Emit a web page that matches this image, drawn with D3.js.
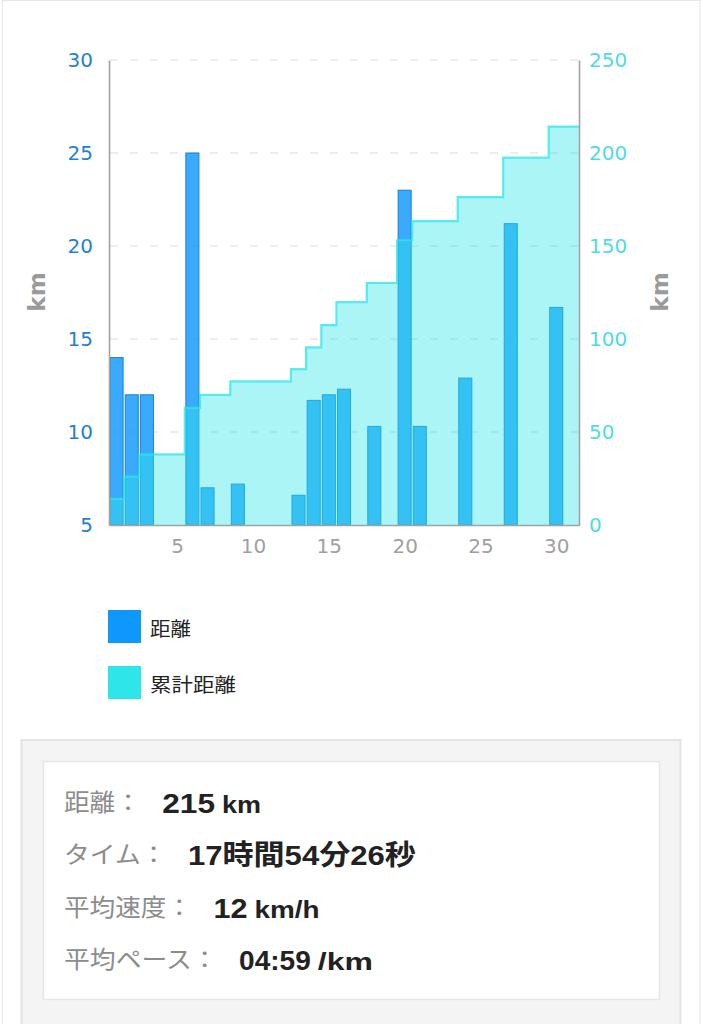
<!DOCTYPE html>
<html>
<head>
<meta charset="utf-8">
<script src="https://cdn.jsdelivr.net/npm/d3@7"></script>
<style>
  html, body { margin: 0; padding: 0; background: #ffffff; }
  svg { display: block; }
</style>
</head>
<body>
<svg id="chart" width="702" height="1024"></svg>
<script>
// ---------- data ----------
const days = [1,2,3,4,5,6,7,8,9,10,11,12,13,14,15,16,17,18,19,20,21,22,23,24,25,26,27,28,29,30,31];
const distance = [14,12,12,0,0,25,7,0,7.2,0,0,0,6.6,11.7,12,12.3,0,10.3,0,23.0,10.3,0,0,12.9,0,0,21.2,0,0,16.7,0];
const cumulative = [14,26,38,38,38,63,70,70,77.2,77.2,77.2,77.2,83.8,95.5,107.5,119.8,119.8,130.1,130.1,153.1,163.4,163.4,163.4,176.3,176.3,176.3,197.5,197.5,197.5,214.2,214.2];
const xTicks = [5,10,15,20,25,30];
const leftTicks = [5,10,15,20,25,30];
const rightTicks = [0,50,100,150,200,250];
const seriesNames = ["距離","累計距離"];
const statLabels = ["距離：","タイム：","平均速度：","平均ペース："];
const statValues = ["215","17時間54分26秒","12","04:59"];
const statUnits = ["km","","km/h","/km"];

// ---------- layout ----------
const svg = d3.select("#chart");
const L = 109, R = 579, T = 60, B = 525;
const BLUE = "#0f97fb", CYAN = "#2ee6ea";

// page border
svg.append("rect").attr("x",2.5).attr("y",0.5).attr("width",697.5).attr("height",1040)
  .attr("fill","none").attr("stroke","#e6e6e6").attr("stroke-width",1);

const x = d3.scaleLinear().domain([0.5, 31.5]).range([L, R]);
const yL = d3.scaleLinear().domain([5, 30]).range([B, T]);
const yR = d3.scaleLinear().domain([0, 250]).range([B, T]);

// gridlines
svg.append("g").selectAll("line").data(leftTicks.slice(1)).join("line")
  .attr("x1", L + 1).attr("x2", R - 1)
  .attr("y1", d => yL(d)).attr("y2", d => yL(d))
  .attr("stroke", "#dcdcdc").attr("stroke-width", 1.2)
  .attr("stroke-dasharray", "8,12");

// bars
const step = x(1.5) - x(0.5);
const bw = step * 0.86;
const barData = days.map((d, i) => ({day: d, v: distance[i]})).filter(d => d.v > 0);
svg.append("g").selectAll("rect").data(barData).join("rect")
  .attr("x", d => x(d.day) - bw / 2)
  .attr("width", bw)
  .attr("y", d => yL(d.v))
  .attr("height", d => yL(5) - yL(d.v))
  .attr("fill", BLUE).attr("fill-opacity", 0.82)
  .attr("stroke", "#1b80d4").attr("stroke-width", 1);

// cumulative step area
const pts = days.map((d, i) => ({x: d, c: cumulative[i]}));
const areaPts = [{x: 0.5, c: cumulative[0]}, ...pts, {x: 31.5, c: cumulative[cumulative.length - 1]}];
const area = d3.area().curve(d3.curveStep).x(d => x(d.x)).y0(yR(0)).y1(d => yR(d.c));
const line = d3.line().curve(d3.curveStep).x(d => x(d.x)).y(d => yR(d.c));
svg.append("path").datum(areaPts).attr("d", area)
  .attr("fill", CYAN).attr("fill-opacity", 0.4);
svg.append("path").datum(areaPts).attr("d", line)
  .attr("fill", "none").attr("stroke", CYAN).attr("stroke-opacity", 0.75).attr("stroke-width", 2.2);

// axes
const axisCol = "#a2a2a2";
const gL = svg.append("g").attr("transform", `translate(${L},0)`)
  .call(d3.axisLeft(yL).tickValues(leftTicks).tickSize(0).tickPadding(16));
const gR = svg.append("g").attr("transform", `translate(${R},0)`)
  .call(d3.axisRight(yR).tickValues(rightTicks).tickSize(0).tickPadding(10));
const gX = svg.append("g").attr("transform", `translate(0,${B})`)
  .call(d3.axisBottom(x).tickValues(xTicks).tickSize(0).tickPadding(14));
[gL, gR, gX].forEach(g => {
  g.select(".domain").attr("stroke", axisCol).attr("stroke-width", 1.6);
  g.selectAll("text").attr("font-family", "DejaVu Sans, Verdana, sans-serif").attr("font-size", 20);
});
gL.selectAll("text").attr("fill", "#2380d6");
gR.selectAll("text").attr("fill", "#4fdbe4");
gX.selectAll("text").attr("fill", "#a0a0a0");

// axis titles
[[37, "left"], [660, "right"]].forEach(([cx]) => {
  svg.append("text").attr("transform", `translate(${cx},292) rotate(-90)`)
    .attr("text-anchor", "middle").attr("dominant-baseline", "central")
    .attr("font-family", "DejaVu Sans, Verdana, sans-serif").attr("font-weight", "bold")
    .attr("font-size", 23).attr("fill", "#9a9a9a").text("km");
});

// legend
const legColors = [BLUE, CYAN];
const legW = [41, 86];
const leg = svg.append("g").selectAll("g").data(seriesNames).join("g")
  .attr("transform", (d, i) => `translate(108,${610 + i * 56})`);
leg.append("rect").attr("width", 33).attr("height", 33).attr("fill", (d, i) => legColors[i]);
leg.append("text").attr("x", 42).attr("y", 17).attr("dominant-baseline", "central")
  .attr("font-family", "Noto Sans CJK JP, sans-serif").attr("font-size", 19).attr("fill", "#222")
  .attr("textLength", (d, i) => legW[i]).attr("lengthAdjust", "spacingAndGlyphs")
  .text(d => d);

// stats box
svg.append("rect").attr("x", 21.5).attr("y", 740).attr("width", 659).attr("height", 300)
  .attr("fill", "#f4f4f4").attr("stroke", "#e3e3e3").attr("stroke-width", 2);
svg.append("rect").attr("x", 43.5).attr("y", 761.5).attr("width", 616).attr("height", 238)
  .attr("fill", "#ffffff").attr("stroke", "#e6e6e6").attr("stroke-width", 1.5);

const valueW = [52.7, 228, 34, 71.7];
const unitW = [39, 0, 65, 55];
const charW = 25.6;
const rows = svg.append("g").selectAll("g").data(statLabels).join("g")
  .attr("transform", (d, i) => `translate(0,${813 + i * 52.3})`);
rows.append("text").attr("x", 64).attr("y", -2)
  .attr("font-family", "Noto Sans CJK JP, sans-serif").attr("font-size", 24).attr("fill", "#8c8c8c")
  .attr("textLength", d => d.length * charW).attr("lengthAdjust", "spacingAndGlyphs")
  .text(d => d);
const vx = (d) => 65 + d.length * charW + 20.5;
rows.append("text").attr("x", d => vx(d)).attr("y", 0)
  .attr("font-family", "Liberation Sans, Arial, Noto Sans CJK JP, sans-serif").attr("font-weight", "bold")
  .attr("font-size", 28).attr("fill", "#222")
  .attr("textLength", (d, i) => valueW[i]).attr("lengthAdjust", "spacingAndGlyphs")
  .text((d, i) => statValues[i]);
rows.filter((d, i) => statUnits[i] !== "").append("text")
  .attr("x", d => vx(d) + valueW[statLabels.indexOf(d)] + 7).attr("y", 0)
  .attr("font-family", "Liberation Sans, Arial, sans-serif").attr("font-weight", "bold")
  .attr("font-size", 24).attr("fill", "#222")
  .attr("textLength", d => unitW[statLabels.indexOf(d)]).attr("lengthAdjust", "spacingAndGlyphs")
  .text(d => statUnits[statLabels.indexOf(d)]);
</script>
</body>
</html>
